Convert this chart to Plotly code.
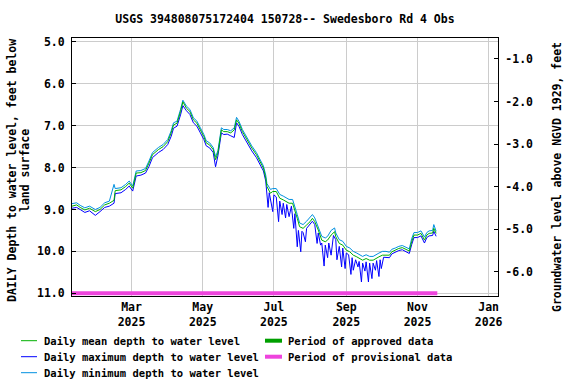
import plotly.graph_objects as go

# ---------------- data ----------------
dates = ["2025-01-09","2025-01-13","2025-01-16","2025-01-20","2025-01-24","2025-01-29","2025-02-02","2025-02-06",
         "2025-02-10","2025-02-14","2025-02-15","2025-02-20","2025-02-24","2025-02-27","2025-03-02","2025-03-05",
         "2025-03-09","2025-03-13","2025-03-16","2025-03-19","2025-03-24","2025-03-28","2025-04-01","2025-04-04",
         "2025-04-06","2025-04-09","2025-04-12","2025-04-14","2025-04-17","2025-04-20","2025-04-23","2025-04-26",
         "2025-04-29","2025-05-02","2025-05-04","2025-05-07","2025-05-10","2025-05-12","2025-05-14","2025-05-17",
         "2025-05-19","2025-05-22","2025-05-25","2025-05-28","2025-05-30","2025-06-01","2025-06-04","2025-06-07",
         "2025-06-09","2025-06-12","2025-06-16","2025-06-19","2025-06-22","2025-06-24","2025-06-25","2025-06-28",
         "2025-06-30","2025-07-03","2025-07-06","2025-07-09","2025-07-12","2025-07-14","2025-07-17","2025-07-19",
         "2025-07-21","2025-07-23","2025-07-26","2025-07-29","2025-08-01","2025-08-03","2025-08-05","2025-08-08",
         "2025-08-11","2025-08-14","2025-08-16","2025-08-19","2025-08-22","2025-08-23","2025-08-26","2025-08-29",
         "2025-09-01","2025-09-04","2025-09-07","2025-09-10","2025-09-12","2025-09-15","2025-09-18","2025-09-21",
         "2025-09-24","2025-09-26","2025-09-29","2025-10-02","2025-10-05","2025-10-08","2025-10-10","2025-10-13",
         "2025-10-16","2025-10-19","2025-10-22","2025-10-25","2025-10-27","2025-10-29","2025-11-01","2025-11-04",
         "2025-11-07","2025-11-09","2025-11-11","2025-11-14","2025-11-15","2025-11-17"]

mean_depth = [8.92,8.89,8.95,9.01,8.97,9.05,9.00,8.89,8.85,8.78,8.55,8.53,8.45,8.37,8.49,8.13,
              8.12,8.07,7.89,7.69,7.57,7.50,7.38,7.17,6.98,6.94,6.66,6.43,6.58,6.66,6.86,6.94,
              7.10,7.26,7.41,7.46,7.57,7.81,7.65,7.10,7.14,7.14,7.17,7.10,6.86,6.94,7.14,7.29,
              7.41,7.53,7.69,7.85,8.01,8.25,8.45,8.61,8.57,8.57,8.73,8.77,8.81,8.85,8.85,9.01,
              9.21,9.41,9.45,9.37,9.29,9.21,9.29,9.49,9.73,9.77,9.73,9.61,9.53,9.65,9.81,9.85,
              9.97,10.01,10.09,10.13,10.17,10.21,10.17,10.21,10.21,10.17,10.13,10.09,10.09,10.09,10.01,9.97,
              9.93,9.91,9.95,9.99,9.77,9.61,9.61,9.57,9.73,9.61,9.57,9.56,9.45,9.57]

min_depth = [8.86,8.84,8.90,8.96,8.92,9.00,8.95,8.84,8.80,8.40,8.50,8.48,8.40,8.32,8.44,8.08,
             8.07,8.02,7.84,7.64,7.52,7.45,7.33,7.12,6.93,6.89,6.61,6.39,6.53,6.61,6.81,6.89,
             7.05,7.21,7.36,7.41,7.52,7.74,7.60,7.05,7.09,7.09,7.12,7.05,6.80,6.89,7.09,7.24,
             7.36,7.48,7.64,7.80,7.96,8.18,8.38,8.52,8.50,8.50,8.64,8.68,8.72,8.76,8.76,8.92,
             9.12,9.32,9.36,9.28,9.18,9.12,9.20,9.40,9.64,9.68,9.64,9.50,9.44,9.56,9.72,9.76,
             9.88,9.92,10.00,10.04,10.08,10.12,10.08,10.12,10.12,10.08,10.04,10.00,10.00,10.02,9.95,9.92,
             9.88,9.86,9.90,9.94,9.70,9.55,9.55,9.51,9.66,9.55,9.51,9.50,9.36,9.52]

max_dates = ["2025-01-09","2025-01-13","2025-01-16","2025-01-20","2025-01-24","2025-01-29","2025-02-02","2025-02-06",
             "2025-02-10","2025-02-14","2025-02-15","2025-02-20","2025-02-24","2025-02-27","2025-03-02","2025-03-05",
             "2025-03-09","2025-03-13","2025-03-16","2025-03-19","2025-03-24","2025-03-28","2025-04-01","2025-04-04",
             "2025-04-06","2025-04-09","2025-04-12","2025-04-14","2025-04-17","2025-04-20","2025-04-23","2025-04-26",
             "2025-04-29","2025-05-02","2025-05-04","2025-05-07","2025-05-10","2025-05-12","2025-05-14","2025-05-17",
             "2025-05-19","2025-05-22","2025-05-25","2025-05-28","2025-05-30","2025-06-01","2025-06-04","2025-06-07",
             "2025-06-09","2025-06-12","2025-06-16","2025-06-19","2025-06-22","2025-06-24","2025-06-26","2025-06-27",
             "2025-06-30","2025-07-01","2025-07-03","2025-07-05","2025-07-06","2025-07-08","2025-07-09","2025-07-11",
             "2025-07-12","2025-07-14","2025-07-16","2025-07-18","2025-07-19","2025-07-21","2025-07-22","2025-07-24",
             "2025-07-25","2025-07-26","2025-07-28","2025-07-29","2025-08-01","2025-08-03","2025-08-05","2025-08-07",
             "2025-08-08","2025-08-10","2025-08-11","2025-08-13","2025-08-14","2025-08-16","2025-08-17","2025-08-19",
             "2025-08-21","2025-08-23","2025-08-24","2025-08-26","2025-08-28","2025-08-29","2025-08-31","2025-09-01",
             "2025-09-03","2025-09-05","2025-09-06","2025-09-07","2025-09-09","2025-09-11","2025-09-12","2025-09-14",
             "2025-09-15","2025-09-17","2025-09-18","2025-09-20","2025-09-21","2025-09-23","2025-09-24","2025-09-26",
             "2025-09-27","2025-09-29","2025-09-30","2025-10-01","2025-10-03","2025-10-05","2025-10-06","2025-10-08",
             "2025-10-10","2025-10-13","2025-10-16","2025-10-19","2025-10-22","2025-10-25","2025-10-27","2025-10-29",
             "2025-11-01","2025-11-04","2025-11-07","2025-11-09","2025-11-11","2025-11-14","2025-11-15","2025-11-17"]

max_depth = [8.97,8.95,9.00,9.07,9.03,9.14,9.05,8.95,8.92,8.85,8.62,8.60,8.52,8.44,8.56,8.20,
             8.18,8.13,7.97,7.76,7.64,7.57,7.45,7.25,7.06,7.01,6.74,6.52,6.64,6.73,6.93,7.01,
             7.17,7.33,7.48,7.53,7.64,7.98,7.72,7.17,7.21,7.20,7.24,7.28,6.93,7.01,7.21,7.36,
             7.48,7.60,7.76,7.92,8.08,8.32,8.95,8.60,9.05,8.65,8.70,9.29,8.80,9.12,8.85,9.20,
             8.88,9.17,8.92,9.45,9.10,9.89,9.50,10.01,9.52,9.55,9.77,9.45,9.36,9.28,9.36,9.81,
             9.56,9.85,9.80,10.35,9.85,10.15,9.80,10.09,9.62,9.72,10.20,9.88,10.37,9.92,10.41,10.04,
             10.08,10.55,10.15,10.45,10.20,10.37,10.24,10.73,10.28,10.47,10.25,10.73,10.28,10.65,10.28,10.45,
             10.22,10.60,10.20,10.41,10.14,10.15,10.14,10.15,10.06,10.02,9.98,9.96,10.00,10.05,9.84,9.67,
             9.67,9.63,9.80,9.67,9.63,9.62,9.52,9.64]

approved_period = ["2025-01-08", "2025-01-09"]
provisional_period = ["2025-01-09", "2025-11-18"]
period_depth = 11.0

land_surface_offset = 4.45  # elevation = offset - depth (right axis)

tick_dates = ["2025-03-01", "2025-05-01", "2025-07-01", "2025-09-01", "2025-11-01", "2026-01-01"]
tick_labels = ["Mar<br>2025", "May<br>2025", "Jul<br>2025", "Sep<br>2025", "Nov<br>2025", "Jan<br>2026"]
left_ticks = [5, 6, 7, 8, 9, 10, 11]
right_ticks = [-1, -2, -3, -4, -5, -6]

# ---------------- style ----------------
FONT = "DejaVu Sans Mono"
C_MEAN = "#00b000"
C_MAX = "#0000ff"
C_MIN = "#0090e0"
C_APP = "#009f00"
C_PROV = "#ee44dd"

fig = go.Figure()
fig.add_trace(go.Scatter(x=max_dates, y=max_depth, mode="lines", line=dict(color=C_MAX, width=1), showlegend=False))
fig.add_trace(go.Scatter(x=dates, y=min_depth, mode="lines", line=dict(color=C_MIN, width=1), showlegend=False))
fig.add_trace(go.Scatter(x=dates, y=mean_depth, mode="lines", line=dict(color=C_MEAN, width=1), showlegend=False))
fig.add_trace(go.Scatter(x=provisional_period, y=[period_depth] * 2, mode="lines",
                         line=dict(color=C_PROV, width=4), showlegend=False))
fig.add_trace(go.Scatter(x=approved_period, y=[period_depth] * 2, mode="lines",
                         line=dict(color=C_APP, width=4), showlegend=False))
# invisible trace to activate the right-hand elevation axis
fig.add_trace(go.Scatter(x=dates, y=[land_surface_offset - d for d in mean_depth], yaxis="y2",
                         mode="lines", line=dict(width=0, color="rgba(0,0,0,0)"),
                         hoverinfo="skip", showlegend=False))

ML, MR, MT, MB = 72, 78, 38, 88
W, H = 576, 384
PW, PH = W - ML - MR, H - MT - MB


def px(xpix):
    return (xpix - ML) / PW


def py(ypix):
    return (H - MB - ypix) / PH


tickfont = dict(family=FONT, size=11.5, color="black", weight="bold")

fig.update_layout(
    width=W, height=H,
    margin=dict(l=ML, r=MR, t=MT, b=MB),
    paper_bgcolor="white", plot_bgcolor="white",
    font=dict(family=FONT, size=11.5, color="black"),
    title=dict(text="USGS 394808075172404 150728-- Swedesboro Rd 4 Obs",
               x=0.5, xref="paper", xanchor="center",
               y=1 - 19 / H, yref="container", yanchor="middle",
               font=dict(family=FONT, size=11.5, color="black", weight="bold")),
    xaxis=dict(type="date", range=["2025-01-09", "2026-01-09"],
               tickvals=tick_dates, ticktext=tick_labels, tickfont=tickfont,
               showgrid=True, gridcolor="#cccccc", gridwidth=1,
               showline=True, linecolor="black", linewidth=1, mirror=True,
               ticks="", zeroline=False),
    yaxis=dict(range=[11.065, 4.905], tickvals=left_ticks,
               ticktext=[f"{v:.1f}" for v in left_ticks], tickfont=tickfont,
               showgrid=True, gridcolor="#cccccc", gridwidth=1,
               showline=True, linecolor="black", linewidth=1, mirror=True,
               ticks="inside", ticklen=4, tickcolor="black", zeroline=False,
               ticklabelstandoff=4),
    yaxis2=dict(overlaying="y", side="right", range=[-6.565, -0.51],
                tickvals=right_ticks, ticktext=[f"-{abs(v):.1f}" for v in right_ticks],
                tickfont=tickfont, showgrid=False, zeroline=False,
                showline=True, linecolor="black", linewidth=1,
                ticks="inside", ticklen=4, tickcolor="black", ticklabelstandoff=4),
)

# axis titles
fig.add_annotation(text="DAILY Depth to water level, feet below", textangle=-90,
                   x=px(12), y=py(171), xref="paper", yref="paper",
                   xanchor="center", yanchor="middle", showarrow=False,
                   font=dict(family=FONT, size=11.5, color="black", weight="bold"))
fig.add_annotation(text="land surface", textangle=-90,
                   x=px(25), y=py(171), xref="paper", yref="paper",
                   xanchor="center", yanchor="middle", showarrow=False,
                   font=dict(family=FONT, size=11.5, color="black", weight="bold"))
fig.add_annotation(text="Groundwater level above NGVD 1929, feet", textangle=-90,
                   x=px(557), y=py(177), xref="paper", yref="paper",
                   xanchor="center", yanchor="middle", showarrow=False,
                   font=dict(family=FONT, size=11.5, color="black", weight="bold"))

# legend (manual)
legend_items = [
    ("Daily mean depth to water level", C_MEAN, 1, 21, 37, 42, 340.7),
    ("Daily maximum depth to water level", C_MAX, 1, 21, 37, 42, 356.7),
    ("Daily minimum depth to water level", C_MIN, 1, 21, 37, 42, 372.7),
    ("Period of approved data", C_APP, 4, 265, 282, 286, 340.7),
    ("Period of provisional data", C_PROV, 4, 265, 282, 286, 356.7),
]
for label, color, lw, x0, x1, xt, yy in legend_items:
    fig.add_shape(type="line", xref="paper", yref="paper",
                  x0=px(x0), x1=px(x1), y0=py(yy), y1=py(yy),
                  line=dict(color=color, width=lw))
    fig.add_annotation(text=label, x=px(xt), y=py(yy), xref="paper", yref="paper",
                       xanchor="left", yanchor="middle", showarrow=False,
                       font=dict(family=FONT, size=10.5, color="black", weight="bold"))

fig.write_html("out.html", config={"displayModeBar": False},
               post_script="document.body.style.margin='0';document.body.style.overflow='hidden';")
